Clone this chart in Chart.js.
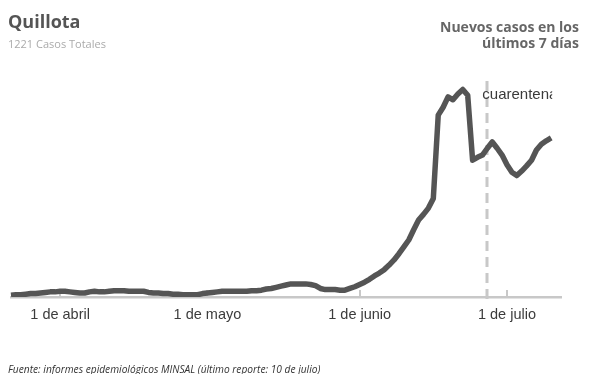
<!DOCTYPE html>
<html>
<head>
<meta charset="utf-8">
<script src="https://cdn.jsdelivr.net/npm/chart.js@4"></script>
<style>
  html, body { margin: 0; padding: 0; background: #fff; }
  #wrap { position: relative; width: 600px; height: 374px; }
</style>
</head>
<body>
<div id="wrap"><canvas id="chart" width="600" height="374"></canvas></div>
<script>
// Data: 7-day rolling new cases, Quillota, from 22 March to 10 July
const startDate = '2020-03-22';
const weeklyCases = [
  3, 4, 4, 5, 6, 6, 7, 8, 9, 9,
  10, 10, 9, 8, 7, 7, 9, 10, 9, 9,
  10, 11, 11, 11, 10, 10, 10, 10, 8, 7,
  7, 6, 6, 5, 5, 4, 4, 4, 4, 6,
  7, 8, 9, 10, 10, 10, 10, 10, 10, 11,
  11, 12, 14, 15, 17, 19, 21, 23, 23, 23,
  23, 22, 20, 15, 13, 13, 13, 12, 12, 15,
  18, 22, 26, 31, 37, 42, 48, 56, 65, 76,
  88, 100, 118, 135, 145, 156, 173, 319, 333, 351,
  346, 356, 364, 354, 240, 245, 249, 261, 272, 261,
  249, 232, 219, 213, 221, 230, 240, 258, 268, 274, 279
];
const tickDates = ['2020-04-01', '2020-05-01', '2020-06-01', '2020-07-01'];
const tickLabels = ['1 de abril', '1 de mayo', '1 de junio', '1 de julio'];
const quarantineDate = '2020-06-27';
const quarantineLabel = 'cuarentena';

const title = 'Quillota';
const subtitle = '1221 Casos Totales';
const rightTitle = ['Nuevos casos en los', 'últimos 7 días'];
const footer = 'Fuente: informes epidemiológicos MINSAL (último reporte: 10 de julio)';

// day labels (axis runs two days past the last report)
const [sy, sm, sd] = startDate.split('-').map(Number);
const days = [];
for (let i = 0; i < weeklyCases.length + 2; i++) {
    days.push(new Date(Date.UTC(sy, sm - 1, sd + i)).toISOString().slice(0, 10));
}

const GRAY_LINE = '#c8c8c8';

// Extra drawing: month marks, quarantine marker, headings
const decorations = {
    id: 'decorations',
    beforeDatasetsDraw(chart) {
        const { ctx, scales: { x, y } } = chart;
        ctx.save();
        ctx.strokeStyle = GRAY_LINE;
        ctx.lineWidth = 2;
        tickDates.forEach(d => {
            const px = Math.round(x.getPixelForValue(days.indexOf(d)));
            ctx.beginPath();
            ctx.moveTo(px, y.bottom);
            ctx.lineTo(px, y.bottom - 7);
            ctx.stroke();
        });

        const qx = Math.round(x.getPixelForValue(days.indexOf(quarantineDate)));
        ctx.lineWidth = 3;
        ctx.setLineDash([10, 6]);
        ctx.beginPath();
        ctx.moveTo(qx, y.top + 12);
        ctx.lineTo(qx, y.bottom + 8);
        ctx.stroke();
        ctx.restore();
    },
    afterDatasetsDraw(chart) {
        const { ctx, scales: { x, y } } = chart;
        const qx = x.getPixelForValue(days.indexOf(quarantineDate));
        ctx.save();
        ctx.beginPath();
        ctx.rect(0, 0, x.getPixelForValue(weeklyCases.length - 1) + 1, chart.height);
        ctx.clip();
        ctx.fillStyle = '#3a3a3a';
        ctx.font = '15px "Liberation Sans", Arial, sans-serif';
        ctx.textBaseline = 'alphabetic';
        ctx.fillText(quarantineLabel, qx - 5, y.top + 30);
        ctx.restore();
    },
    afterDraw(chart) {
        const { ctx, width } = chart;
        ctx.save();
        ctx.textBaseline = 'alphabetic';

        ctx.fillStyle = '#555';
        ctx.font = 'bold 18px "Open Sans", sans-serif';
        ctx.fillText(title, 8, 28);

        ctx.fillStyle = '#aaa';
        ctx.font = '11px "Open Sans", sans-serif';
        ctx.fillText(subtitle, 8, 48);

        ctx.fillStyle = '#666';
        ctx.font = 'bold 14px "Open Sans", sans-serif';
        ctx.textAlign = 'right';
        ctx.fillText(rightTitle[0], width - 21, 32);
        ctx.fillText(rightTitle[1], width - 21, 48);

        ctx.fillStyle = '#333';
        ctx.font = 'italic 10.2px "Open Sans", sans-serif';
        ctx.textAlign = 'left';
        ctx.fillText(footer, 8, 373);
        ctx.restore();
    }
};

const ctx = document.getElementById('chart').getContext('2d');
const chart = new Chart(ctx, {
    type: 'line',
    data: {
        labels: days,
        datasets: [{
            data: weeklyCases,
            borderColor: '#555',
            borderWidth: 5.5,
            borderJoinStyle: 'round',
            pointRadius: 0,
            tension: 0,
            fill: false
        }]
    },
    options: {
        responsive: false,
        animation: false,
        events: [],
        layout: { padding: { left: 11, right: 39, top: 69, bottom: 37 } },
        plugins: {
            legend: { display: false },
            tooltip: { enabled: false }
        },
        scales: {
            x: {
                type: 'category',
                offset: false,
                grid: { display: false, drawTicks: false },
                border: { display: true, color: GRAY_LINE, width: 2.5 },
                afterFit: scale => { scale.height = 40; },
                ticks: {
                    autoSkip: false,
                    maxRotation: 0,
                    padding: 9,
                    color: '#3c3c3c',
                    font: { family: '"Liberation Sans", Arial, sans-serif', size: 14.5 },
                    callback: function(value) {
                        const k = tickDates.indexOf(this.getLabelForValue(value));
                        return k >= 0 ? tickLabels[k] : '';
                    }
                }
            },
            y: {
                display: false,
                min: 0,
                max: 400
            }
        }
    },
    plugins: [decorations]
});
</script>
</body>
</html>
